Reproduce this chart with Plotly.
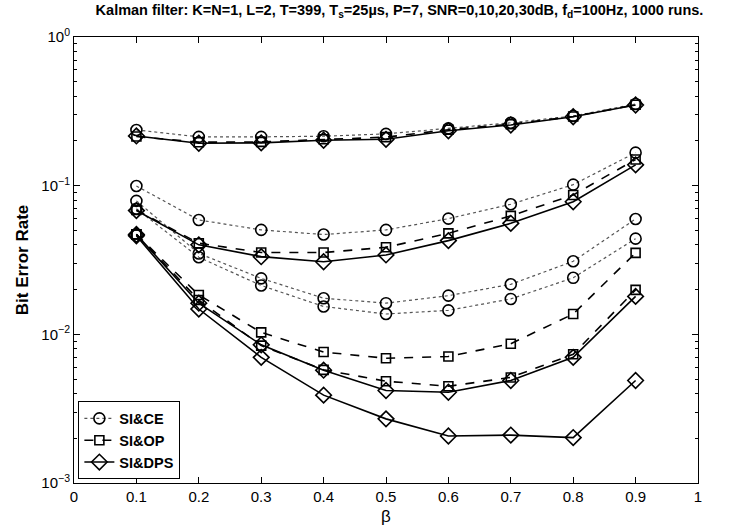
import plotly.graph_objects as go

beta = [0.1, 0.2, 0.3, 0.4, 0.5, 0.6, 0.7, 0.8, 0.9]

# SI&CE (dotted, circles) for SNR = 0, 10, 20, 30 dB
ce_0 = [0.237, 0.213, 0.213, 0.215, 0.223, 0.243, 0.265, 0.294, 0.354]
ce_10 = [0.0995, 0.0588, 0.0504, 0.0469, 0.0504, 0.060, 0.075, 0.1016, 0.1667]
ce_20 = [0.079, 0.035, 0.0238, 0.0175, 0.0162, 0.0182, 0.0217, 0.031, 0.0597]
ce_30 = [0.070, 0.033, 0.0213, 0.0154, 0.0137, 0.0145, 0.0173, 0.024, 0.044]

# SI&OP (dashed, squares)
op_0 = [0.214, 0.196, 0.197, 0.205, 0.212, 0.238, 0.259, 0.292, 0.350]
op_10 = [0.0687, 0.041, 0.0355, 0.0355, 0.0385, 0.0478, 0.0626, 0.0866, 0.150]
op_20 = [0.047, 0.0184, 0.0103, 0.0076, 0.0069, 0.0071, 0.00865, 0.0137, 0.0353]
op_30 = [0.047, 0.017, 0.0084, 0.00577, 0.00484, 0.00447, 0.00513, 0.00735, 0.0199]

# SI&DPS (solid, diamonds)
dps_0 = [0.216, 0.193, 0.194, 0.202, 0.205, 0.234, 0.256, 0.291, 0.349]
dps_10 = [0.068, 0.040, 0.0333, 0.0308, 0.0342, 0.0427, 0.0558, 0.078, 0.138]
dps_20 = [0.047, 0.0162, 0.0085, 0.00574, 0.00419, 0.00408, 0.00489, 0.0070, 0.018]
dps_30 = [0.046, 0.0148, 0.0070, 0.0039, 0.0027, 0.00207, 0.0021, 0.00202, 0.00489]

fig = go.Figure()

def add(series_list, name, dash, width, lcolor, symbol, msize):
    for i, ys in enumerate(series_list):
        fig.add_trace(go.Scatter(
            x=beta, y=ys, mode="lines+markers", name=name,
            legendgroup=name, showlegend=(i == 0),
            line=dict(color=lcolor, dash=dash, width=width),
            marker=dict(symbol=symbol, size=msize, color="black",
                        line=dict(color="black", width=1.6)),
        ))

add([ce_0, ce_10, ce_20, ce_30], "<b>SI&CE</b>", "dot", 1.2, "#555555", "circle-open", 11)
add([op_0, op_10, op_20, op_30], "<b>SI&OP</b>", "dash", 1.6, "black", "square-open", 9)
add([dps_0, dps_10, dps_20, dps_30], "<b>SI&DPS</b>", "solid", 1.6, "black", "diamond-open", 12)

minor_vals = [m * 10 ** e for e in (-3, -2, -1) for m in range(2, 10)]

fig.update_layout(
    width=733, height=529,
    margin=dict(l=73.5, r=35, t=37, b=46),
    paper_bgcolor="white", plot_bgcolor="white",
    font=dict(family="Liberation Sans, Arial", size=15, color="black"),
    title=dict(
        text="<b>Kalman filter: K=N=1, L=2, T=399, T<sub>s</sub>=25µs, P=7, SNR=0,10,20,30dB, f<sub>d</sub>=100Hz, 1000 runs.</b>",
        x=0.545, xanchor="center", y=0.99, yanchor="top",
        font=dict(size=14.5, family="Liberation Sans, Arial"),
    ),
    xaxis=dict(
        range=[0, 1], tickmode="array",
        tickvals=[0, 0.1, 0.2, 0.3, 0.4, 0.5, 0.6, 0.7, 0.8, 0.9, 1],
        ticktext=["0", "0.1", "0.2", "0.3", "0.4", "0.5", "0.6", "0.7", "0.8", "0.9", "1"],
        ticks="inside", ticklen=6, tickwidth=1, tickcolor="black",
        showline=True, linecolor="black", linewidth=1, mirror="ticks",
        showgrid=False, zeroline=False,
        tickfont=dict(size=15),
    ),
    yaxis=dict(
        type="log", range=[-3, 0], tickmode="array",
        tickvals=[1e-3, 1e-2, 1e-1, 1],
        ticktext=["10<sup>−3</sup>", "10<sup>−2</sup>", "10<sup>−1</sup>", "10<sup>0</sup>"],
        ticks="inside", ticklen=6, tickwidth=1, tickcolor="black",
        minor=dict(tickmode="array", tickvals=minor_vals, ticks="inside",
                   ticklen=3, tickcolor="black", showgrid=False),
        showline=True, linecolor="black", linewidth=1, mirror="ticks",
        showgrid=False, zeroline=False,
        title=dict(text="<b>Bit Error Rate</b>", font=dict(size=17), standoff=8),
        tickfont=dict(size=15),
    ),
    legend=dict(
        x=0.007, y=0.008, xanchor="left", yanchor="bottom",
        bgcolor="white", bordercolor="black", borderwidth=1,
        font=dict(size=14.5, family="Liberation Sans, Arial"),
        tracegroupgap=0, itemwidth=30,
    ),
    showlegend=True,
    annotations=[dict(
        text="β", xref="paper", yref="paper", x=0.5, y=-0.074,
        xanchor="center", yanchor="middle", showarrow=False,
        font=dict(size=17),
    )],
)

fig.write_html("out.html")
